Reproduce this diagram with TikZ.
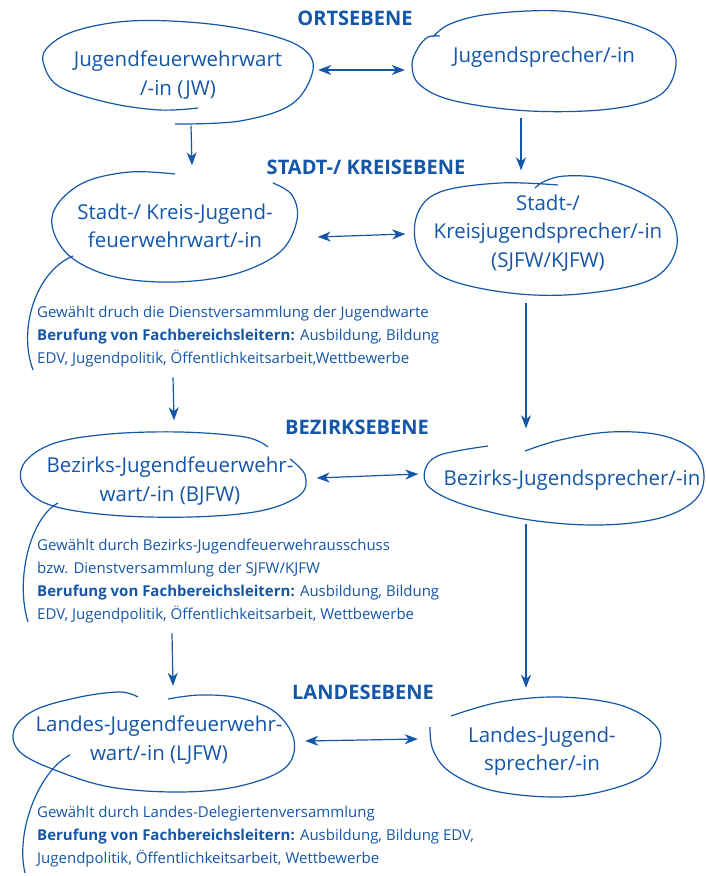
\documentclass[tikz,border=0pt]{standalone}
\usepackage{fontspec}
\setmainfont{Open Sans}
\usepackage{tikz}
\usetikzlibrary{arrows.meta}
\definecolor{jfblau}{RGB}{20,86,168}

\begin{document}
\begin{tikzpicture}[x=1pt,y=-1pt,
  every path/.style={color=jfblau},
  rolle/.style={inner sep=0pt, align=center, text=jfblau, font=\fontsize{20.5pt}{28.5pt}\selectfont},
  ebene/.style={text=jfblau, font=\fontsize{20pt}{22pt}\selectfont\bfseries},
  info/.style={anchor=north west, align=left, inner sep=0pt, text=jfblau, font=\fontsize{15pt}{23pt}\selectfont},
  linie/.style={line width=1.2pt},
  pfeil/.style={line width=1.2pt, >={Stealth[length=13pt,width=10pt,inset=4pt]}}]
\useasboundingbox (0,0) rectangle (706,876);

% Drawing level titles
\node[ebene] (orts) at (355,18) {ORTSEBENE};
\node[ebene] (kreis) at (366,167) {STADT-/ KREISEBENE};
\node[ebene] (bezirk) at (357,427) {BEZIRKSEBENE};
\node[ebene] (land) at (363,692) {LANDESEBENE};

% Drawing roles
\node[rolle, minimum width=270pt, minimum height=103pt] (jw) at (178,75) {Jugendfeuerwehrwart\\/-in (JW)};
\node[rolle, minimum width=264pt, minimum height=102pt] (js) at (544,57) {Jugendsprecher/-in};
\node[rolle, minimum width=245pt, minimum height=111pt] (skw) at (175,226) {Stadt-/ Kreis-Jugend-\\feuerwehrwart/-in};
\node[rolle, minimum width=263pt, minimum height=119pt] (sks) at (548,233) {Stadt-/\\Kreisjugendsprecher/-in\\(SJFW/KJFW)};
\node[rolle, minimum width=287pt, minimum height=85pt] (bw) at (170,481) {Bezirks-Jugendfeuerwehr-\\wart/-in (BJFW)};
\node[rolle, minimum width=281pt, minimum height=93pt] (bs) at (572,480) {Bezirks-Jugendsprecher/-in};
\node[rolle, minimum width=282pt, minimum height=100pt] (lw) at (159,740) {Landes-Jugendfeuerwehr-\\wart/-in (LJFW)};
\node[rolle, minimum width=230pt, minimum height=100pt] (ls) at (542,751) {Landes-Jugend-\\sprecher/-in};

% Drawing election notes
\node[info] (wahl1) at (37,306) {Gewählt druch die Dienstversammlung der Jugendwarte\\\textbf{Berufung von Fachbereichsleitern:} Ausbildung, Bildung\\EDV, Jugendpolitik, Öffentlichkeitsarbeit,Wettbewerbe};
\node[info] (wahl2) at (37,539) {Gewählt durch Bezirks-Jugendfeuerwehrausschuss\\bzw. Dienstversammlung der SJFW/KJFW\\\textbf{Berufung von Fachbereichsleitern:} Ausbildung, Bildung\\EDV, Jugendpolitik, Öffentlichkeitsarbeit, Wettbewerbe};
\node[info] (wahl3) at (37,806) {Gewählt durch Landes-Delegiertenversammlung\\\textbf{Berufung von Fachbereichsleitern:} Ausbildung, Bildung EDV,\\Jugendpolitik, Öffentlichkeitsarbeit, Wettbewerbe};

% Drawing hand-drawn outlines
\draw[linie] plot[smooth, tension=0.6] coordinates {(175,124) (240,121) (292,104) (313,70) (302,48) (262,33) (200,23) (130,21) (75,31) (47,48) (44,65) (60,87) (110,103) (160,110) (198,108)};
\draw[linie] plot[smooth, tension=0.6] coordinates {(440,36) (428,37) (418,48) (412,65) (420,85) (455,101) (530,111) (610,109) (660,95) (676,65) (665,40) (625,22) (560,11) (490,14) (450,24) (433,37)};
\draw[linie] plot[smooth, tension=0.6] coordinates {(175,174) (130,172) (85,182) (57,205) (53,230) (72,258) (115,277) (175,282) (235,274) (280,252) (297,220) (292,195) (273,183)};
\draw[linie] plot[smooth, tension=0.6] coordinates {(558,185) (500,183) (440,192) (417,215) (418,250) (445,278) (510,293) (580,294) (650,280) (676,250) (670,215) (640,192) (600,178) (565,176) (545,181) (535,188)};
\draw[linie] plot[smooth, tension=0.6] coordinates {(290,459) (305,475) (300,495) (260,511) (190,517) (110,515) (50,505) (23,485) (25,462) (55,443) (110,434) (180,432) (245,437) (268,447)};
\draw[linie] plot[smooth, tension=0.6] coordinates {(525,451) (560,440) (610,432) (660,435) (693,450) (704,475) (695,500) (660,518) (600,525) (530,520) (465,505) (430,488) (425,470) (440,455) (488,446)};
\draw[linie] plot[smooth, tension=0.6] coordinates {(168,699) (200,695) (240,698) (275,712) (294,740) (285,768) (240,786) (180,792) (110,787) (55,770) (20,752) (14,730) (35,710) (80,697) (120,692) (138,697)};
\draw[linie] plot[smooth, tension=0.6] coordinates {(451,716) (500,702) (560,697) (620,705) (655,725) (660,748) (645,775) (600,792) (550,797) (490,790) (450,772) (433,750) (430,727)};

% Drawing brackets
\draw[linie] (73,256) .. controls (35,272) and (18,330) .. (33,370);
\draw[linie] (58,503) .. controls (30,518) and (15,580) .. (28,622);
\draw[linie] (70,755) .. controls (40,770) and (15,830) .. (25,873);

% Drawing connections
\draw[pfeil, <->] ([shift={(5,-5)}]jw.east) -- ([shift={(-7,13)}]js.west);
\draw[pfeil, ->] ([shift={(13,-1)}]jw.south) -- ([shift={(17,-5)}]skw.north);
\draw[pfeil, ->] ([shift={(-23,10)}]js.south) -- ([shift={(-27,-3)}]sks.north);
\draw[pfeil, <->] ([shift={(20,11)}]skw.east) -- ([shift={(-11,1)}]sks.west);
\draw[pfeil, ->] ([shift={(-22,10)}]sks.south) -- ([shift={(-46,-5)}]bs.north);
\draw[pfeil, ->] ([shift={(136,10)}]wahl1.south west) -- ([shift={(4,-18)}]bw.north);
\draw[pfeil, <->] ([shift={(3,-3)}]bw.east) -- ([shift={(-13,-6)}]bs.west);
\draw[pfeil, ->] ([shift={(-46,-3)}]bs.south) -- ([shift={(-16,-13)}]ls.north);
\draw[pfeil, ->] ([shift={(135,10)}]wahl2.south west) -- ([shift={(14,-4)}]lw.north);
\draw[pfeil, <->] ([shift={(5,1)}]lw.east) -- ([shift={(-9,-12)}]ls.west);
\end{tikzpicture}
\end{document}
